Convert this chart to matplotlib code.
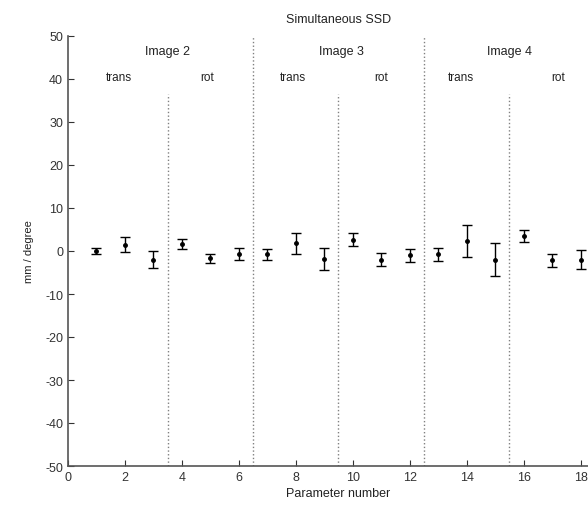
import numpy as np
import matplotlib
matplotlib.use("Agg")
import matplotlib.pyplot as plt

# -------------------------------
# DATA
# -------------------------------
params = list(range(1, 19))
means = [0.0, 1.5, -2.0, 1.6, -1.7, -0.7,
         -0.8, 1.8, -1.8, 2.6, -2.0, -1.0,
         -0.8, 2.4, -2.0, 3.6, -2.2, -2.0]
errors = [0.7, 1.7, 1.9, 1.2, 1.1, 1.5,
          1.2, 2.5, 2.6, 1.5, 1.5, 1.5,
          1.6, 3.7, 3.9, 1.4, 1.6, 2.2]

image_labels = ["Image 2", "Image 3", "Image 4"]
image_x = [3.5, 9.6, 15.5]
sub_labels = ["trans", "rot", "trans", "rot", "trans", "rot"]
sub_x = [1.8, 4.9, 7.9, 11.0, 13.8, 17.2]
long_lines = [6.5, 12.5]
short_lines = [3.5, 9.5, 15.5]

# -------------------------------
# PLOT
# -------------------------------
plt.rcParams["font.family"] = ["Liberation Sans", "DejaVu Sans"]
plt.rcParams["font.size"] = 8.5
plt.rcParams["axes.unicode_minus"] = False

fig = plt.figure(figsize=(5.88, 5.06), dpi=100)
# axes run a little past the right edge, like the cropped original
ax = fig.add_axes([68 / 588, 39 / 506, 541 / 588, 430 / 506])

ax.errorbar(params, means, yerr=errors, fmt=".", color="black",
            markersize=5, elinewidth=1.0, capsize=3.5, capthick=1.0)

# separators between images / trans-rot groups
for x in long_lines:
    ax.plot([x, x], [-50, 50], ls=":", color="#808080", lw=1.0)
for x in short_lines:
    ax.plot([x, x], [-50, 36.5], ls=":", color="#808080", lw=1.0)

for x, t in zip(image_x, image_labels):
    ax.text(x, 46.5, t, ha="center", va="center", fontsize=9, color="#222222")
for x, t in zip(sub_x, sub_labels):
    ax.text(x, 40.5, t, ha="center", va="center", fontsize=8.5, color="#222222")

ax.set_xlim(0, 19)
ax.set_ylim(-50, 50)
ax.set_xticks(range(0, 19, 2))
ax.set_yticks(range(-50, 51, 10))
ax.tick_params(direction="in", length=4, colors="#333333", labelsize=9)
ax.spines["top"].set_visible(False)
ax.spines["right"].set_visible(False)
for s in ["left", "bottom"]:
    ax.spines[s].set_color("#555555")
    ax.spines[s].set_linewidth(1.2)

ax.set_title("Simultaneous SSD", fontsize=9, color="#222222", pad=10)
ax.set_xlabel("Parameter number", fontsize=9, color="#222222", labelpad=3)
ax.set_ylabel("mm / degree", fontsize=8, color="#222222", labelpad=8)

fig.savefig("out.png", dpi=100)
